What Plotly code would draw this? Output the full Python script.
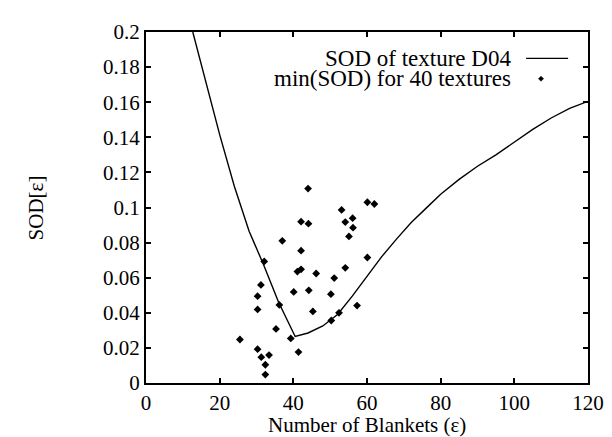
import plotly.graph_objects as go

# Curve: SOD of texture D04
curve_x = [12.7, 16, 20, 24, 28, 32, 36, 40.5, 44, 48, 52, 56, 60, 64, 68, 72,
           76, 80, 85, 90, 95, 100, 105, 110, 115, 120]
curve_y = [0.200, 0.173, 0.1415, 0.112, 0.0865, 0.067, 0.046, 0.0265, 0.0285,
           0.0325, 0.039, 0.0495, 0.061, 0.072, 0.082, 0.0915, 0.0995, 0.1076,
           0.116, 0.1235, 0.130, 0.1375, 0.1445, 0.151, 0.1565, 0.1605]

# Scatter: min(SOD) for 40 textures
pts_x = [44.0, 53.1, 60.1, 62.0, 42.1, 44.1, 54.1, 56.1, 56.2, 55.1, 37.0, 42.1,
         60.1, 32.1, 42.1, 41.1, 46.2, 54.1, 51.1, 31.2, 30.3, 40.1, 44.2, 50.2,
         36.2, 57.3, 30.3, 25.5, 30.3, 31.3, 33.4, 32.4, 32.4, 41.4, 39.3, 35.3,
         45.3, 50.3, 52.4]
pts_y = [0.1108, 0.0986, 0.103, 0.102, 0.0919, 0.0908, 0.0917, 0.0939, 0.0885,
         0.0835, 0.081, 0.0754, 0.0715, 0.0693, 0.0648, 0.0635, 0.0624, 0.0656,
         0.0598, 0.0559, 0.0495, 0.0519, 0.0528, 0.0506, 0.0445, 0.0441, 0.0419,
         0.0248, 0.0193, 0.0147, 0.0159, 0.0104, 0.0048, 0.0176, 0.0254, 0.0308,
         0.0408, 0.0356, 0.040]

x_ticks = [0, 20, 40, 60, 80, 100, 120]
y_ticks = [0, 0.02, 0.04, 0.06, 0.08, 0.1, 0.12, 0.14, 0.16, 0.18, 0.2]
y_tick_text = ["0", "0.02", "0.04", "0.06", "0.08", "0.1", "0.12", "0.14",
               "0.16", "0.18", "0.2"]

legend_names = ["SOD of texture D04", "min(SOD) for 40 textures"]

FONT = "Liberation Serif"
FS = 21
FS_LEG = 23

fig = go.Figure()
fig.add_trace(go.Scatter(x=curve_x, y=curve_y, mode="lines",
                         line=dict(color="black", width=1.4),
                         name=legend_names[0], showlegend=False))
fig.add_trace(go.Scatter(x=pts_x, y=pts_y, mode="markers",
                         marker=dict(symbol="diamond", color="black", size=6),
                         name=legend_names[1], showlegend=False))

axis_common = dict(showgrid=False, zeroline=False, showline=True,
                   linecolor="black", linewidth=2, mirror="ticks",
                   ticks="inside", ticklen=5, tickwidth=1.5, tickcolor="black",
                   tickfont=dict(family=FONT, size=FS, color="black"))

fig.update_xaxes(range=[0, 120], tickvals=x_ticks, ticklabelstandoff=0,
                 **axis_common)
fig.update_yaxes(range=[0, 0.2], tickvals=y_ticks, ticktext=y_tick_text,
                 **axis_common)

# Legend drawn gnuplot-style (text left, sample right)
fig.add_annotation(x=0.83, y=0.925, xref="paper", yref="paper",
                   text=legend_names[0], showarrow=False, xanchor="right",
                   yanchor="middle", font=dict(family=FONT, size=FS_LEG, color="black"))
fig.add_annotation(x=0.83, y=0.867, xref="paper", yref="paper",
                   text=legend_names[1], showarrow=False, xanchor="right",
                   yanchor="middle", font=dict(family=FONT, size=FS_LEG, color="black"))
fig.add_shape(type="line", xref="paper", yref="paper", x0=0.86, x1=0.955,
              y0=0.925, y1=0.925, line=dict(color="black", width=1.4))
cx, cy, dx, dy = 0.8937, 0.867, 2.6 / 442, 2.6 / 360
fig.add_shape(type="path", xref="paper", yref="paper",
              path=f"M {cx-dx} {cy} L {cx} {cy+dy} L {cx+dx} {cy} L {cx} {cy-dy} Z",
              fillcolor="black", line=dict(color="black", width=0.5))

# Axis titles
fig.add_annotation(x=0.5, y=-0.120, xref="paper", yref="paper",
                   text="Number of Blankets (ε)", showarrow=False,
                   xanchor="center", yanchor="middle",
                   font=dict(family=FONT, size=FS, color="black"))
fig.add_annotation(x=-0.249, y=0.5, xref="paper", yref="paper",
                   text="SOD[ε]", showarrow=False, textangle=-90,
                   xanchor="center", yanchor="middle",
                   font=dict(family=FONT, size=FS, color="black"))

fig.update_layout(width=612, height=437,
                  margin=dict(l=138, r=32, t=15, b=62),
                  paper_bgcolor="white", plot_bgcolor="white",
                  showlegend=False)

fig.write_html("out.html")
